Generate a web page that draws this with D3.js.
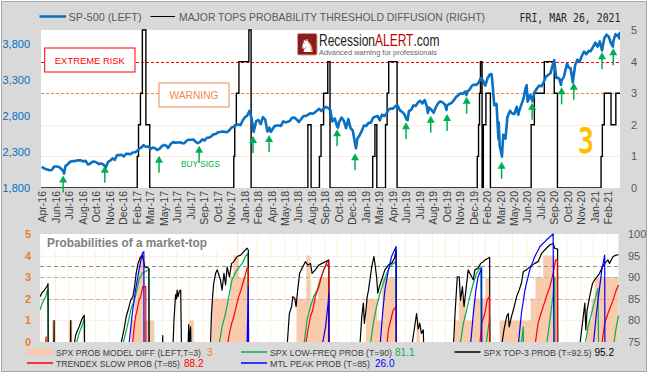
<!DOCTYPE html>
<html>
<head>
<meta charset="utf-8">
<script src="https://cdn.jsdelivr.net/npm/d3@7"></script>
<style>
    body { margin: 0; background: #fff; }
    svg text { font-family: "Liberation Sans", Arial, sans-serif; }
</style>
</head>
<body>
<script>
// --------- DATA ---------

const parseDate = d3.timeParse("%Y-%m-%d");

const xTickLabels = ["Apr-16","Jun-16","Jul-16","Aug-16","Oct-16","Nov-16","Dec-16","Feb-17","Mar-17",
    "May-17","Jun-17","Jul-17","Sep-17","Oct-17","Nov-17","Jan-18","Feb-18","Apr-18","May-18","Jun-18",
    "Aug-18","Sep-18","Oct-18","Dec-18","Jan-19","Mar-19","Apr-19","Jun-19","Jul-19","Aug-19","Oct-19",
    "Nov-19","Dec-19","Feb-20","Mar-20","May-20","Jun-20","Jul-20","Sep-20","Oct-20","Nov-20","Jan-21","Feb-21"];

const spxTicks = [1800, 2300, 2800, 3300, 3800];
const diffTicks = [0, 1, 2, 3, 4, 5];
const riskLevels = [4, 3];
const riskLabels = ["EXTREME RISK", "WARNING"];

// S&P 500 close (left axis)
const spx = [
    ["2016-04-18",2094],["2016-04-29",2065],["2016-05-06",2057],["2016-05-13",2046],["2016-05-20",2052],
    ["2016-05-27",2099],["2016-06-03",2099],["2016-06-10",2096],["2016-06-17",2071],["2016-06-24",2037],
    ["2016-06-27",2000],["2016-07-01",2103],["2016-07-08",2130],["2016-07-15",2162],["2016-07-22",2175],
    ["2016-07-29",2173],["2016-08-05",2183],["2016-08-12",2184],["2016-08-19",2184],["2016-08-26",2169],
    ["2016-09-02",2180],["2016-09-09",2128],["2016-09-16",2139],["2016-09-23",2165],["2016-09-30",2168],
    ["2016-10-07",2153],["2016-10-14",2133],["2016-10-21",2141],["2016-10-28",2126],["2016-11-04",2085],
    ["2016-11-11",2164],["2016-11-18",2182],["2016-11-25",2213],["2016-12-02",2192],["2016-12-09",2260],
    ["2016-12-16",2258],["2016-12-23",2263],["2016-12-30",2239],["2017-01-06",2277],["2017-01-13",2275],
    ["2017-01-20",2271],["2017-01-27",2295],["2017-02-03",2297],["2017-02-10",2316],["2017-02-17",2351],
    ["2017-02-24",2367],["2017-03-01",2396],["2017-03-10",2373],["2017-03-17",2378],["2017-03-24",2344],
    ["2017-03-31",2363],["2017-04-07",2355],["2017-04-13",2329],["2017-04-21",2349],["2017-04-28",2384],
    ["2017-05-05",2399],["2017-05-12",2390],["2017-05-17",2357],["2017-05-26",2416],["2017-06-02",2439],
    ["2017-06-09",2432],["2017-06-16",2433],["2017-06-23",2438],["2017-06-30",2423],["2017-07-07",2425],
    ["2017-07-14",2459],["2017-07-21",2472],["2017-07-28",2472],["2017-08-04",2476],["2017-08-11",2441],
    ["2017-08-18",2425],["2017-08-25",2443],["2017-09-01",2477],["2017-09-08",2461],["2017-09-15",2500],
    ["2017-09-22",2502],["2017-09-29",2519],["2017-10-06",2549],["2017-10-13",2553],["2017-10-20",2575],
    ["2017-10-27",2581],["2017-11-03",2587],["2017-11-10",2582],["2017-11-17",2578],["2017-11-24",2602],
    ["2017-12-01",2642],["2017-12-08",2652],["2017-12-15",2675],["2017-12-22",2683],["2017-12-29",2674],
    ["2018-01-05",2743],["2018-01-12",2786],["2018-01-19",2810],["2018-01-26",2873],["2018-02-02",2762],
    ["2018-02-08",2581],["2018-02-16",2732],["2018-02-23",2747],["2018-03-02",2691],["2018-03-09",2786],
    ["2018-03-16",2752],["2018-03-23",2588],["2018-03-29",2641],["2018-04-02",2582],["2018-04-06",2604],
    ["2018-04-13",2656],["2018-04-20",2670],["2018-04-27",2670],["2018-05-04",2663],["2018-05-11",2728],
    ["2018-05-18",2713],["2018-05-25",2721],["2018-06-01",2735],["2018-06-08",2779],["2018-06-15",2780],
    ["2018-06-22",2755],["2018-06-29",2718],["2018-07-06",2760],["2018-07-13",2801],["2018-07-20",2802],
    ["2018-07-27",2819],["2018-08-03",2840],["2018-08-10",2833],["2018-08-17",2850],["2018-08-24",2875],
    ["2018-08-31",2902],["2018-09-07",2872],["2018-09-14",2905],["2018-09-21",2930],["2018-09-28",2914],
    ["2018-10-05",2885],["2018-10-11",2728],["2018-10-19",2768],["2018-10-26",2658],["2018-10-29",2641],
    ["2018-11-02",2723],["2018-11-09",2781],["2018-11-16",2736],["2018-11-23",2633],["2018-11-30",2760],
    ["2018-12-07",2633],["2018-12-14",2600],["2018-12-21",2417],["2018-12-24",2351],["2018-12-28",2486],
    ["2019-01-04",2532],["2019-01-11",2596],["2019-01-18",2671],["2019-01-25",2665],["2019-02-01",2707],
    ["2019-02-08",2708],["2019-02-15",2775],["2019-02-22",2793],["2019-03-01",2804],["2019-03-08",2743],
    ["2019-03-15",2822],["2019-03-22",2800],["2019-03-29",2834],["2019-04-05",2893],["2019-04-12",2907],
    ["2019-04-18",2905],["2019-04-26",2940],["2019-05-03",2946],["2019-05-10",2881],["2019-05-17",2860],
    ["2019-05-24",2826],["2019-05-31",2752],["2019-06-03",2744],["2019-06-07",2873],["2019-06-14",2887],
    ["2019-06-21",2950],["2019-06-28",2942],["2019-07-05",2990],["2019-07-12",3014],["2019-07-19",2977],
    ["2019-07-26",3025],["2019-08-02",2932],["2019-08-05",2844],["2019-08-09",2919],["2019-08-16",2889],
    ["2019-08-23",2847],["2019-08-30",2926],["2019-09-06",2979],["2019-09-13",3007],["2019-09-20",2992],
    ["2019-09-27",2962],["2019-10-02",2887],["2019-10-04",2952],["2019-10-11",2970],["2019-10-18",2986],
    ["2019-10-25",3023],["2019-11-01",3067],["2019-11-08",3093],["2019-11-15",3120],["2019-11-22",3110],
    ["2019-11-29",3141],["2019-12-03",3093],["2019-12-06",3146],["2019-12-13",3169],["2019-12-20",3221],
    ["2019-12-27",3240],["2020-01-03",3235],["2020-01-10",3265],["2020-01-17",3330],["2020-01-24",3295],
    ["2020-01-31",3225],["2020-02-07",3328],["2020-02-14",3380],["2020-02-19",3386],["2020-02-21",3338],
    ["2020-02-28",2954],["2020-03-06",2972],["2020-03-12",2480],["2020-03-13",2711],["2020-03-16",2386],
    ["2020-03-20",2305],["2020-03-23",2237],["2020-03-27",2541],["2020-04-03",2489],["2020-04-09",2790],
    ["2020-04-17",2875],["2020-04-24",2837],["2020-05-01",2831],["2020-05-08",2930],["2020-05-13",2820],
    ["2020-05-15",2864],["2020-05-22",2955],["2020-05-29",3044],["2020-06-05",3194],["2020-06-08",3232],
    ["2020-06-11",3002],["2020-06-19",3098],["2020-06-26",3009],["2020-07-02",3130],["2020-07-10",3185],
    ["2020-07-17",3225],["2020-07-24",3216],["2020-07-31",3271],["2020-08-07",3351],["2020-08-14",3373],
    ["2020-08-21",3397],["2020-08-28",3508],["2020-09-02",3580],["2020-09-08",3332],["2020-09-11",3341],
    ["2020-09-18",3319],["2020-09-23",3237],["2020-09-25",3298],["2020-10-02",3348],["2020-10-09",3477],
    ["2020-10-12",3534],["2020-10-16",3483],["2020-10-23",3465],["2020-10-30",3270],["2020-11-06",3509],
    ["2020-11-13",3585],["2020-11-20",3557],["2020-11-27",3638],["2020-12-04",3699],["2020-12-11",3663],
    ["2020-12-18",3709],["2020-12-24",3703],["2020-12-31",3756],["2021-01-08",3824],["2021-01-15",3768],
    ["2021-01-22",3841],["2021-01-29",3714],["2021-02-05",3886],["2021-02-12",3934],["2021-02-19",3906],
    ["2021-02-26",3811],["2021-03-04",3768],["2021-03-05",3841],["2021-03-12",3943],["2021-03-18",3915],
    ["2021-03-22",3940],["2021-03-24",3881],["2021-03-26",3975]
];

// major tops probability threshold diffusion (right axis, 0-5)
const diffusion = [
    ["2016-04-16",0],
    ["2017-02-10",1],["2017-02-14",2],["2017-02-20",3],["2017-02-26",5],["2017-03-09",2],["2017-03-21",0],
    ["2017-12-08",1],["2017-12-11",2],["2017-12-16",3],["2017-12-24",4],["2018-01-24",5],["2018-01-31",0],
    ["2018-07-27",2],["2018-08-06",0],
    ["2018-09-01",1],["2018-09-06",2],["2018-09-14",3],["2018-09-27",4],["2018-10-04",0],
    ["2019-02-14",1],["2019-02-21",2],["2019-02-27",0],
    ["2019-03-26",2],["2019-03-31",3],["2019-04-05",4],["2019-05-01",0],
    ["2020-01-06",1],["2020-01-10",2],["2020-01-13",3],["2020-01-16",4],["2020-01-21",0],
    ["2020-01-25",2],["2020-02-02",3],["2020-02-16",0],
    ["2020-06-22",2],["2020-07-02",3],["2020-08-02",4],["2020-09-02",3],["2020-09-12",0],
    ["2021-01-26",1],["2021-01-30",2],["2021-02-05",3],["2021-02-26",2],["2021-03-13",3],["2021-03-26",3]
];

// buy signals: date and S&P level at the arrow tip
const buySignals = [
    ["2016-06-24",1974],["2016-11-01",2110],["2017-04-19",2250],["2017-08-22",2389],["2018-02-06",2524],
    ["2018-03-28",2538],["2018-10-26",2617],["2018-12-21",2283],["2019-05-29",2715],["2019-08-14",2806],
    ["2019-10-04",2830],["2019-12-04",3071],["2020-03-22",2166],["2020-06-25",2987],["2020-09-25",3202],
    ["2020-11-02",3266],["2021-01-29",3689],["2021-03-05",3745]
];

// lower panel
const probLeftTicks = [0, 1, 2, 3, 4, 5];
const probRightTicks = [75, 80, 85, 90, 95, 100];
const probThresholds = [92.5, 90, 85];

// SPX prob model diff (left axis, steps)
const probDiff = [
    ["2016-04-16",0],["2016-05-24",1],["2016-06-04",0],["2016-07-15",1],["2016-07-26",0],
    ["2017-01-25",1],["2017-02-05",2],["2017-02-13",3],["2017-02-19",4],["2017-03-09",1],["2017-04-08",0],
    ["2017-07-24",1],["2017-08-09",0],
    ["2017-10-05",2],["2017-12-01",3],["2017-12-10",4],["2017-12-23",5],["2017-12-25",4],["2017-12-28",3],["2018-01-27",0],
    ["2018-06-25",2],["2018-07-26",4],["2018-08-08",2],["2018-09-01",3],["2018-10-05",0],
    ["2019-01-28",2],["2019-03-04",1],["2019-03-20",3],["2019-05-04",0],
    ["2019-07-05",1],["2019-07-15",0],
    ["2019-11-02",1],["2019-11-14",2],["2019-12-05",1],["2019-12-29",2],["2020-02-05",3],["2020-02-19",0],
    ["2020-03-21",1],["2020-06-25",2],["2020-07-10",3],["2020-08-03",4],["2020-09-08",3],["2020-09-18",0],
    ["2020-12-18",1],["2021-01-01",2],["2021-01-11",3],["2021-03-26",3]
];

const lowFreqProb = [
    ["2016-04-16",82.4],["2016-04-23",84.0],["2016-05-04",85.5],["2016-05-09",87.0],["2016-05-11",87.2],["2016-05-12",60],
    ["2016-08-05",74],["2016-08-16",77],["2016-08-26",79],["2016-09-02",80.3],["2016-09-03",60],
    ["2016-12-29",74],["2017-01-13",78.5],["2017-01-24",82.4],["2017-02-08",85.5],["2017-02-19",89.4],
    ["2017-03-01",90.9],["2017-03-12",91.3],["2017-03-21",91.7],["2017-03-22",60],
    ["2017-10-26",74],["2017-11-05",78.5],["2017-11-16",81.6],["2017-11-26",85.5],["2017-12-06",89.4],
    ["2017-12-22",91.7],["2018-01-07",93.2],["2018-01-17",94.8],["2018-01-25",95.5],["2018-01-27",60],
    ["2018-07-18",74],["2018-07-28",80.1],["2018-08-08",83.2],["2018-08-18",85.5],["2018-08-28",87.0],
    ["2018-09-08",89.4],["2018-09-18",91.7],["2018-09-29",93.0],["2018-10-04",92.5],["2018-10-05",60],
    ["2019-02-10",74],["2019-02-20",79.3],["2019-03-02",83.2],["2019-03-13",86.3],["2019-03-23",88.6],
    ["2019-04-03",90.9],["2019-04-13",92.4],["2019-04-23",93.2],["2019-05-02",93.6],["2019-05-03",60],
    ["2019-11-17",74],["2019-11-28",79.3],["2019-12-08",82.4],["2019-12-18",85.5],["2019-12-29",88.6],
    ["2020-01-08",90.9],["2020-01-21",92.4],["2020-01-23",60],
    ["2020-02-06",74],["2020-02-18",80.5],["2020-02-19",60],
    ["2020-05-26",74],["2020-06-02",78.5],["2020-06-03",60],
    ["2020-08-13",74],["2020-08-24",80],["2020-09-03",86],["2020-09-08",90.1],["2020-09-09",60],
    ["2020-12-11",74],["2020-12-21",78.5],["2021-01-01",81.6],["2021-01-11",84.7],["2021-01-21",87.4],["2021-01-25",60],
    ["2021-03-10",74],["2021-03-18",78],["2021-03-26",81.1]
];

const top3Prob = [
    ["2016-04-16",85.5],["2016-04-23",86.5],["2016-04-28",86.8],["2016-05-04",87.5],["2016-05-09",88.0],
    ["2016-05-11",88.5],["2016-05-12",60],
    ["2016-05-29",74],["2016-05-30",80],["2016-05-31",60],
    ["2016-07-20",74],["2016-07-21",80],["2016-07-22",60],
    ["2016-07-31",74],["2016-08-05",76.5],["2016-08-10",77.5],["2016-08-16",78.5],["2016-08-21",79.5],
    ["2016-08-26",80.5],["2016-09-01",81.2],["2016-09-03",60],
    ["2016-12-23",74],["2017-01-03",77.8],["2017-01-10",80.9],["2017-01-16",82.4],["2017-01-24",84.7],
    ["2017-01-31",85.5],["2017-02-05",87.8],["2017-02-10",90.9],["2017-02-16",93.2],["2017-02-22",94.4],
    ["2017-03-01",95.1],["2017-03-06",93.5],["2017-03-09",92.4],["2017-03-17",92.2],["2017-03-22",92.0],["2017-03-23",60],
    ["2017-05-03",74],["2017-05-04",76.5],["2017-05-05",60],
    ["2017-06-05",74],["2017-06-08",80],["2017-06-13",86],["2017-06-16",85],["2017-06-18",87],
    ["2017-06-21",85.5],["2017-06-25",86.8],["2017-06-29",87.0],["2017-07-04",60],
    ["2017-07-22",74],["2017-07-24",79],["2017-07-26",75],["2017-07-30",78.5],["2017-08-03",60],
    ["2017-09-30",74],["2017-10-03",81.6],["2017-10-07",85.9],["2017-10-10",88.6],["2017-10-16",90.9],
    ["2017-10-21",91.7],["2017-10-31",89.4],["2017-11-05",87.0],["2017-11-11",90.9],["2017-11-16",88.2],
    ["2017-11-21",92.4],["2017-11-28",90.1],["2017-12-05",93.2],["2017-12-12",93.6],["2017-12-22",94.8],
    ["2018-01-02",95.1],["2018-01-12",95.9],["2018-01-22",96.7],["2018-01-26",96.3],["2018-01-27",60],
    ["2018-05-27",74],["2018-06-03",81.6],["2018-06-10",83.2],["2018-06-14",85.5],["2018-06-20",85.1],
    ["2018-06-24",83.2],["2018-06-29",87.0],["2018-07-05",90.9],["2018-07-13",92.1],["2018-07-23",93.6],
    ["2018-07-31",92.8],["2018-08-08",93.2],["2018-08-13",90.9],["2018-08-23",91.7],["2018-09-03",92.8],
    ["2018-09-13",93.2],["2018-09-24",93.6],["2018-10-04",94.0],["2018-10-05",60],
    ["2019-01-09",74],["2019-01-15",80.9],["2019-01-20",84.0],["2019-01-23",79.3],["2019-01-28",82.4],
    ["2019-02-01",85.5],["2019-02-05",87.0],["2019-02-15",92.4],["2019-02-22",94.8],["2019-02-25",93.2],
    ["2019-03-02",90.1],["2019-03-06",86.3],["2019-03-11",87.8],["2019-03-18",89.4],["2019-03-28",91.7],
    ["2019-04-08",92.8],["2019-04-18",93.2],["2019-04-27",94.4],["2019-05-02",96.3],["2019-05-04",60],
    ["2019-06-20",74],["2019-07-05",81.6],["2019-07-10",78],["2019-07-15",79.3],["2019-07-20",77],
    ["2019-07-26",77.8],["2019-07-31",60],
    ["2019-10-28",74],["2019-11-02",81.6],["2019-11-09",90.1],["2019-11-15",90.1],["2019-11-19",84.7],
    ["2019-11-25",87.8],["2019-11-30",83.2],["2019-12-06",87.0],["2019-12-13",91.7],["2019-12-18",90.9],
    ["2019-12-29",89.4],["2020-01-03",91.7],["2020-01-13",92.1],["2020-01-21",93.2],["2020-01-29",93.6],
    ["2020-02-03",94.0],["2020-02-13",94.4],["2020-02-18",94.6],["2020-02-19",60],
    ["2020-03-26",74],["2020-04-03",78],["2020-04-11",80.9],["2020-04-16",81.6],["2020-04-19",78.5],
    ["2020-04-26",80.9],["2020-05-02",82.4],["2020-05-12",85.5],["2020-05-20",87.0],["2020-05-27",88.6],
    ["2020-06-02",91.3],["2020-06-12",91.7],["2020-06-22",92.4],["2020-07-08",93.2],["2020-07-18",93.6],
    ["2020-07-29",95.5],["2020-08-13",96.7],["2020-08-24",97.5],["2020-09-03",97.8],["2020-09-08",96.7],
    ["2020-09-17",96.5],["2020-09-18",60],
    ["2020-11-25",74],["2020-12-06",80.9],["2020-12-11",84.0],["2020-12-14",77.8],["2020-12-18",82.4],
    ["2020-12-26",85.5],["2021-01-04",88.6],["2021-01-11",89.4],["2021-01-18",90.1],["2021-01-26",90.9],
    ["2021-02-04",92.4],["2021-02-11",93.2],["2021-02-21",94.0],["2021-02-26",93.2],["2021-03-09",94.8],
    ["2021-03-19",95.1],["2021-03-26",95.2]
];

const trendexSlowProb = [
    ["2016-04-16",60],["2016-05-03",74],["2016-05-05",76.2],["2016-05-06",60],
    ["2017-01-29",74],["2017-02-03",77.8],["2017-02-08",80.9],["2017-02-13",82.4],["2017-02-19",84.7],
    ["2017-02-24",85.5],["2017-03-03",87.8],["2017-03-12",87.8],["2017-03-13",60],
    ["2017-11-21",74],["2017-11-28",77.0],["2017-12-05",79.3],["2017-12-12",80.9],["2017-12-19",83.2],
    ["2017-12-27",85.5],["2018-01-03",87.0],["2018-01-09",88.6],["2018-01-15",90.1],["2018-01-22",92.1],
    ["2018-01-26",92.1],["2018-01-27",60],
    ["2018-07-23",74],["2018-07-31",77.8],["2018-08-08",80.9],["2018-08-15",82.4],["2018-08-23",85.5],
    ["2018-09-03",87.8],["2018-09-11",90.1],["2018-09-18",91.7],["2018-09-29",93.6],["2018-10-04",93.6],["2018-10-05",60],
    ["2019-04-03",74],["2019-04-08",77.8],["2019-04-18",80.9],["2019-04-23",82.4],["2019-05-02",83.2],["2019-05-03",60],
    ["2020-01-18",74],["2020-01-24",79.3],["2020-02-03",81.6],["2020-02-10",84.7],["2020-02-17",85.5],["2020-02-19",60],
    ["2020-07-08",74],["2020-07-18",79.3],["2020-07-27",81.6],["2020-08-03",83.2],["2020-08-13",85.5],
    ["2020-08-24",87.8],["2020-09-03",90.9],["2020-09-11",94.0],["2020-09-16",94.0],["2020-09-17",60],
    ["2021-02-01",74],["2021-02-11",79.3],["2021-02-21",81.6],["2021-03-09",84.7],["2021-03-19",87.0],["2021-03-26",88.2]
];

const mtlPeakProb = [
    ["2016-04-16",60],
    ["2017-01-18",74],["2017-01-29",81.6],["2017-02-08",87.0],["2017-02-19",91.7],["2017-03-01",95.5],
    ["2017-03-06",95.9],["2017-03-07",60],
    ["2018-01-22",74],["2018-01-26",87.8],["2018-01-27",60],
    ["2018-09-13",74],["2018-09-24",78.5],["2018-10-02",84],["2018-10-04",86.3],["2018-10-05",60],
    ["2019-03-13",74],["2019-03-21",81.6],["2019-03-28",87.0],["2019-04-08",91.7],["2019-04-18",94.8],
    ["2019-05-02",97.1],["2019-05-03",60],
    ["2019-12-20",74],["2019-12-29",81.6],["2020-01-06",87.0],["2020-01-13",90.1],["2020-01-24",92.1],["2020-01-25",60],
    ["2020-05-17",74],["2020-05-27",81.6],["2020-06-07",87.0],["2020-06-22",91.7],["2020-07-08",94.8],
    ["2020-07-24",97.1],["2020-08-13",98.6],["2020-09-03",100],["2020-09-07",60],
    ["2021-01-06",74],["2021-01-16",81.6],["2021-01-25",87.0],["2021-02-02",91.7],["2021-02-11",95.1],
    ["2021-02-12",60],["2021-03-26",26.0]
];

const legendNames = ["SPX PROB MODEL DIFF (LEFT,T=3)", "SPX LOW-FREQ PROB (T=90)", "SPX TOP-3 PROB (T=92.5)",
    "TRENDEX SLOW PROB (T=85)", "MTL PEAK PROB (T=85)"];
const legendValues = ["3", "81.1", "95.2", "88.2", "26.0"];

// --------- CHART ---------

const W = 650, H = 375;
const svg = d3.select("body").append("svg").attr("width", W).attr("height", H);

svg.append("rect")
    .attr("x", 1.5).attr("y", 1.5).attr("width", 645).attr("height", 370)
    .attr("fill", "#d9d9d9").attr("stroke", "#a6a6a6");

let topBox = {left: 41, right: 620, top: 30, bottom: 188};
let botBox = {left: 40, right: 618.5, top: 234, bottom: 342};

svg.append("rect").attr("x", topBox.left).attr("y", topBox.top)
    .attr("width", topBox.right - topBox.left).attr("height", topBox.bottom - topBox.top).attr("fill", "#fff");
svg.append("rect").attr("x", botBox.left).attr("y", botBox.top)
    .attr("width", botBox.right - botBox.left).attr("height", botBox.bottom - botBox.top).attr("fill", "#fff");

let defs = svg.append("defs");
defs.append("clipPath").attr("id", "clipTop").append("rect")
    .attr("x", topBox.left).attr("y", topBox.top - 1)
    .attr("width", topBox.right - topBox.left).attr("height", topBox.bottom - topBox.top + 1);
defs.append("clipPath").attr("id", "clipBot").append("rect")
    .attr("x", botBox.left).attr("y", botBox.top - 1)
    .attr("width", botBox.right - botBox.left + 1).attr("height", botBox.bottom - botBox.top + 1);

// Scales
let x = d3.scaleTime()
    .domain([parseDate("2016-04-16"), parseDate("2021-03-26")])
    .range([topBox.left, topBox.right]);
let xb = x.copy().range([botBox.left, botBox.right]);
let ySpx = d3.scaleLinear().domain([1800, 4000]).range([topBox.bottom, topBox.top]);
let yDiff = d3.scaleLinear().domain([0, 5]).range([topBox.bottom, topBox.top]);
let yProb = d3.scaleLinear().domain([75, 100]).range([botBox.bottom, botBox.top]);
let yProbDiff = d3.scaleLinear().domain([0, 5]).range([botBox.bottom, botBox.top]);

let tickDates = xTickLabels.map((l, i) => d3.timeDay.offset(parseDate("2016-04-20"), i * 42));

// --- top panel ---
let topG = svg.append("g").attr("clip-path", "url(#clipTop)");

// faint gridlines
topG.selectAll(".hgrid").data([1, 2]).join("line")
    .attr("x1", topBox.left).attr("x2", topBox.right)
    .attr("y1", d => Math.round(yDiff(d)) + 0.5).attr("y2", d => Math.round(yDiff(d)) + 0.5)
    .attr("stroke", "#fbf0d6").attr("stroke-width", 1);

// risk level lines
let riskColors = ["#ff0000", "#f08a4b"];
topG.selectAll(".risk").data(riskLevels).join("line")
    .attr("x1", topBox.left).attr("x2", topBox.right)
    .attr("y1", d => Math.round(yDiff(d)) + 0.5).attr("y2", d => Math.round(yDiff(d)) + 0.5)
    .attr("stroke", (d, i) => riskColors[i]).attr("stroke-width", 1)
    .attr("stroke-dasharray", "3,2");

// diffusion step line
let diffLine = d3.line()
    .x(d => x(parseDate(d[0])))
    .y(d => yDiff(d[1]))
    .curve(d3.curveStepAfter);
topG.append("path")
    .attr("fill", "none").attr("stroke", "#000").attr("stroke-width", 1.4)
    .attr("d", diffLine(diffusion));

// S&P line
let spxLine = d3.line()
    .x(d => x(parseDate(d[0])))
    .y(d => ySpx(d[1]));
topG.append("path")
    .attr("fill", "none").attr("stroke", "#0a70c4").attr("stroke-width", 2.6)
    .attr("stroke-linejoin", "round")
    .attr("d", spxLine(spx));

// buy signal arrows
let arrows = svg.append("g");
buySignals.forEach(s => {
    let px = x(parseDate(s[0])), py = ySpx(s[1]);
    arrows.append("line")
        .attr("x1", px).attr("x2", px).attr("y1", py + 5).attr("y2", py + 17)
        .attr("stroke", "#00b050").attr("stroke-width", 1.5);
    arrows.append("path")
        .attr("d", `M${px},${py} L${px - 4},${py + 7} L${px + 4},${py + 7} Z`)
        .attr("fill", "#00b050");
});

svg.append("text")
    .attr("x", 181).attr("y", 166.5)
    .attr("font-size", 8.5).attr("fill", "#00b050")
    .attr("textLength", 39).attr("lengthAdjust", "spacingAndGlyphs")
    .text("BUY SIGS");

// risk labels
let riskBoxes = [{x: 44.7, y: 48, w: 90.3, h: 24, tl: 70, fs: 9.6}, {x: 159, y: 83, w: 70, h: 24, tl: 49, fs: 10}];
riskLabels.forEach((lab, i) => {
    let b = riskBoxes[i];
    svg.append("rect").attr("x", b.x).attr("y", b.y).attr("width", b.w).attr("height", b.h)
        .attr("fill", "#fff").attr("stroke", riskColors[i]).attr("stroke-width", 1);
    svg.append("text")
        .attr("x", b.x + b.w / 2 - b.tl / 2).attr("y", b.y + 16)
        .attr("font-size", b.fs).attr("fill", riskColors[i])
        .attr("textLength", b.tl).attr("lengthAdjust", "spacingAndGlyphs")
        .text(lab);
});

// logo
svg.append("rect").attr("x", 297.5).attr("y", 33.5).attr("width", 19.5).attr("height", 21.5)
    .attr("rx", 1.5).attr("fill", "#8e1b1b").attr("stroke", "#c9a0a0");
svg.append("text").attr("x", 307.3).attr("y", 51.5).attr("text-anchor", "middle")
    .attr("font-size", 18).attr("fill", "#fff")
    .style("font-family", "'DejaVu Sans', sans-serif")
    .text("\u265E");
// narrow logo type: 12px text stretched vertically
let logo = svg.append("g").attr("transform", "translate(319,45.5) scale(1,1.3)")
    .append("text").attr("x", 0).attr("y", 0)
    .attr("font-size", 12).attr("fill", "#222");
logo.append("tspan").text("Recession");
logo.append("tspan").attr("fill", "#c00000").text("ALERT");
logo.append("tspan").text(".com");
svg.append("text").attr("x", 319).attr("y", 54.5)
    .attr("font-size", 7.5).attr("fill", "#666")
    .attr("textLength", 118).attr("lengthAdjust", "spacingAndGlyphs")
    .text("Advanced warning for professionals");

// current diffusion value
svg.append("text")
    .attr("x", 578).attr("y", 153)
    .attr("font-size", 36).attr("font-weight", "bold").attr("fill", "#ffc000")
    .attr("textLength", 16).attr("lengthAdjust", "spacingAndGlyphs")
    .style("font-family", "'DejaVu Sans Mono', monospace")
    .text(diffusion[diffusion.length - 1][1]);

// axes
let xAxis = svg.append("g")
    .attr("transform", "translate(0," + topBox.bottom + ")")
    .call(d3.axisBottom(x).tickValues(tickDates).tickFormat((d, i) => xTickLabels[i]).tickSize(0));
xAxis.select(".domain").remove();
xAxis.selectAll("text")
    .attr("transform", "rotate(-90)")
    .attr("text-anchor", "end")
    .attr("x", -3).attr("y", 0).attr("dy", "0.35em")
    .attr("font-size", 10.5).attr("fill", "#404040")
    .style("font-family", "'Liberation Sans', Arial, sans-serif");

let yLeft = svg.append("g")
    .attr("transform", "translate(" + topBox.left + ",0)")
    .call(d3.axisLeft(ySpx).tickValues(spxTicks).tickFormat(d3.format(",")).tickSize(0).tickPadding(11));
yLeft.select(".domain").remove();
yLeft.selectAll("text").attr("font-size", 11).attr("fill", "#0070c0")
    .style("font-family", "'Liberation Sans', Arial, sans-serif");

let yRight = svg.append("g")
    .attr("transform", "translate(" + topBox.right + ",0)")
    .call(d3.axisRight(yDiff).tickValues(diffTicks).tickFormat(d3.format("d")).tickSize(0).tickPadding(11));
yRight.select(".domain").remove();
yRight.selectAll("text").attr("font-size", 11).attr("fill", "#595959")
    .style("font-family", "'Liberation Sans', Arial, sans-serif");

// header legend
svg.append("line").attr("x1", 39.5).attr("x2", 66).attr("y1", 16.5).attr("y2", 16.5)
    .attr("stroke", "#0070c0").attr("stroke-width", 2.5);
svg.append("text").attr("x", 68.5).attr("y", 20.6)
    .attr("font-size", 10.4).attr("fill", "#595959")
    .attr("textLength", 73).attr("lengthAdjust", "spacingAndGlyphs")
    .text("SP-500 (LEFT)");
svg.append("line").attr("x1", 150.5).attr("x2", 175).attr("y1", 16.5).attr("y2", 16.5)
    .attr("stroke", "#000").attr("stroke-width", 1);
svg.append("text").attr("x", 179).attr("y", 20.6)
    .attr("font-size", 10.4).attr("fill", "#595959")
    .attr("textLength", 306).attr("lengthAdjust", "spacingAndGlyphs")
    .text("MAJOR TOPS PROBABILITY THRESHOLD DIFFUSION (RIGHT)");
svg.append("text").attr("x", 519.5).attr("y", 21.5)
    .attr("font-size", 11.5).attr("fill", "#262626")
    .attr("textLength", 101).attr("lengthAdjust", "spacingAndGlyphs")
    .style("font-family", "'DejaVu Sans Mono', monospace")
    .text("FRI, MAR 26, 2021");

// --- bottom panel ---
let botG = svg.append("g").attr("clip-path", "url(#clipBot)");

botG.selectAll(".vgrid").data(tickDates).join("line")
    .attr("x1", d => Math.round(xb(d)) + 0.5).attr("x2", d => Math.round(xb(d)) + 0.5)
    .attr("y1", botBox.top).attr("y2", botBox.bottom)
    .attr("stroke", "#fcf1dc").attr("stroke-width", 1);
botG.selectAll(".hgrid").data([1, 2, 3, 4]).join("line")
    .attr("x1", botBox.left).attr("x2", botBox.right)
    .attr("y1", d => Math.round(yProbDiff(d)) + 0.5).attr("y2", d => Math.round(yProbDiff(d)) + 0.5)
    .attr("stroke", "#fcf1dc").attr("stroke-width", 1);

// title box
botG.append("rect").attr("x", botBox.left).attr("y", botBox.top)
    .attr("width", 199).attr("height", 17).attr("fill", "#fff");

let diffArea = d3.area()
    .x(d => xb(parseDate(d[0])))
    .y0(yProbDiff(0))
    .y1(d => yProbDiff(d[1]))
    .curve(d3.curveStepAfter);
botG.append("path").attr("fill", "#f8cbad").attr("d", diffArea(probDiff));

let threshColors = ["#8c8c8c", "#7fd19f", "#f2a1a1"];
botG.selectAll(".thr").data(probThresholds).join("line")
    .attr("x1", botBox.left).attr("x2", botBox.right)
    .attr("y1", d => Math.round(yProb(d)) + 0.5).attr("y2", d => Math.round(yProb(d)) + 0.5)
    .attr("stroke", (d, i) => threshColors[i]).attr("stroke-width", 1)
    .attr("stroke-dasharray", "4,3");

let probLine = d3.line()
    .x(d => xb(parseDate(d[0])))
    .y(d => yProb(d[1]));
let seriesList = [[lowFreqProb, "#00b050"], [top3Prob, "#000"], [trendexSlowProb, "#ff0000"], [mtlPeakProb, "#0000ff"]];
seriesList.forEach(s => {
    botG.append("path")
        .attr("fill", "none").attr("stroke", s[1]).attr("stroke-width", 1.2)
        .attr("stroke-linejoin", "round")
        .attr("d", probLine(s[0]));
});

svg.append("text").attr("x", 47).attr("y", 246.5)
    .attr("font-size", 12).attr("font-weight", "bold").attr("fill", "#808080")
    .attr("textLength", 160).attr("lengthAdjust", "spacingAndGlyphs")
    .text("Probabilities of a market-top");

let bLeft = svg.append("g")
    .attr("transform", "translate(" + botBox.left + ",0)")
    .call(d3.axisLeft(yProbDiff).tickValues(probLeftTicks).tickFormat(d3.format("d")).tickSize(0).tickPadding(9));
bLeft.select(".domain").remove();
bLeft.selectAll("text").attr("font-size", 11).attr("font-weight", "bold").attr("fill", "#ed7d31")
    .style("font-family", "'Liberation Sans', Arial, sans-serif");

let bRight = svg.append("g")
    .attr("transform", "translate(" + botBox.right + ",0)")
    .call(d3.axisRight(yProb).tickValues(probRightTicks).tickSize(0).tickPadding(9.5));
bRight.select(".domain").remove();
bRight.selectAll("text").attr("font-size", 11).attr("fill", "#595959")
    .style("font-family", "'Liberation Sans', Arial, sans-serif");

// legend
let legendPos = [
    {x: 27, y: 355.5, tl: 145, vx: 207, key: "rect", color: "#f8cbad", vcolor: "#ed7d31"},
    {x: 241, y: 355.5, tl: 122, vx: 395, key: "line", color: "#00b050", vcolor: "#00b050"},
    {x: 454.5, y: 355.5, tl: 108, vx: 594.5, key: "line", color: "#000", vcolor: "#000"},
    {x: 27, y: 366.5, tl: 124, vx: 184, key: "line", color: "#ff0000", vcolor: "#ff0000"},
    {x: 241, y: 366.5, tl: 100, vx: 375, key: "line", color: "#0000ff", vcolor: "#0000ff"}
];
legendNames.forEach((name, i) => {
    let p = legendPos[i];
    if (p.key === "rect") {
        svg.append("rect").attr("x", p.x).attr("y", p.y - 7).attr("width", 26).attr("height", 7)
            .attr("fill", p.color);
    } else {
        svg.append("line").attr("x1", p.x).attr("x2", p.x + 26).attr("y1", p.y - 3.5).attr("y2", p.y - 3.5)
            .attr("stroke", p.color).attr("stroke-width", 1.5);
    }
    svg.append("text").attr("x", p.x + 29).attr("y", p.y)
        .attr("font-size", 8.7).attr("fill", "#404040")
        .attr("textLength", p.tl).attr("lengthAdjust", "spacingAndGlyphs")
        .text(name);
    svg.append("text").attr("x", p.vx).attr("y", p.y + 0.5)
        .attr("font-size", 10).attr("fill", p.vcolor)
        .text(legendValues[i]);
});
</script>
</body>
</html>
